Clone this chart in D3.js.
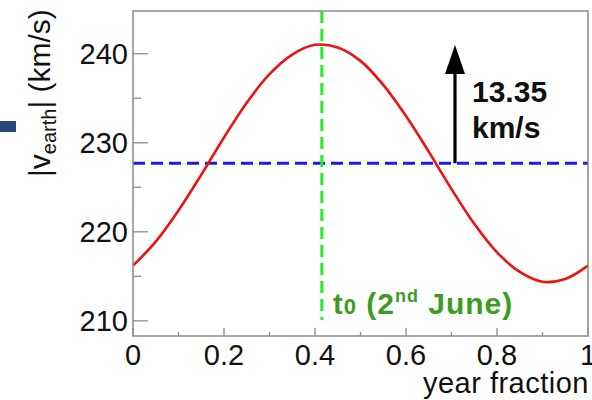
<!DOCTYPE html>
<html><head><meta charset="utf-8">
<script src="https://cdn.jsdelivr.net/npm/d3@7"></script>
<style>body{margin:0;background:#fff}svg{display:block;font-family:"Liberation Sans",Arial,sans-serif}</style>
</head><body>
<script>
// data
const yearFraction = [0,0.05,0.10,0.15,0.20,0.25,0.30,0.35,0.40,0.45,0.50,0.55,0.60,0.65,0.70,0.75,0.80,0.85,0.90,0.95,1.00];
const speed = [216.2,218.9,222.4,226.4,230.6,234.5,237.7,239.9,241.0,240.7,239.2,236.5,233.0,229.0,224.8,220.9,217.7,215.5,214.4,214.7,216.2];
const meanSpeed = 227.7;
const t0 = 0.415;
const amplitudeLabel = ["13.35","km/s"];
const xTicks = [0,0.2,0.4,0.6,0.8,1];
const yTicks = [210,220,230,240];

const W=592,H=400;
const svg=d3.select("body").append("svg").attr("width",W).attr("height",H);
const L=133,R=588,T=11,B=336;
const x=d3.scaleLinear().domain([0,1]).range([L,R]);
const y=d3.scaleLinear().domain([208.3,244.8]).range([B,T]);

// slide artifact on the left
svg.append("rect").attr("x",0).attr("y",121).attr("width",16).attr("height",11).attr("fill","#27467c");

const gray="#8a8a8a";
const xMinor=d3.range(0,1.0001,0.1);
svg.append("g").selectAll("line").data(xMinor).join("line")
 .attr("x1",d=>x(d)).attr("x2",d=>x(d)).attr("y1",B)
 .attr("y2",(d,i)=>B-(i%2===0?8:4)).attr("stroke",gray).attr("stroke-width",1.3);
const yMinor=d3.range(210,241,5);
svg.append("g").selectAll("line").data(yMinor).join("line")
 .attr("y1",d=>y(d)).attr("y2",d=>y(d)).attr("x1",L)
 .attr("x2",(d,i)=>L+(i%2===0?15:8)).attr("stroke",gray).attr("stroke-width",1.3);

// tick labels
svg.append("g").selectAll("text").data(xTicks).join("text")
 .attr("x",d=>x(d)).attr("y",365).attr("text-anchor","middle")
 .attr("font-size",29).attr("fill","#111").text(d=>d===0?"0":d===1?"1":d3.format(".1f")(d));
svg.append("g").selectAll("text").data(yTicks).join("text")
 .attr("x",128).attr("y",d=>y(d)+10.5).attr("text-anchor","end")
 .attr("font-size",29).attr("fill","#111").text(d=>d);

// axis titles
svg.append("text").attr("x",589).attr("y",393).attr("text-anchor","end")
 .attr("font-size",29).attr("letter-spacing",0.5).attr("fill","#111").text("year fraction");
const yt=svg.append("text").attr("transform","translate(50,177) rotate(-90)")
 .attr("font-size",30).attr("fill","#111");
yt.append("tspan").text("|v");
yt.append("tspan").attr("font-size",20).attr("dy",6).text("earth");
yt.append("tspan").attr("dy",-6).text("| (km/s)");

// mean line
svg.append("line").attr("x1",L).attr("x2",R).attr("y1",y(meanSpeed)).attr("y2",y(meanSpeed))
 .attr("stroke","#1a1aee").attr("stroke-width",3).attr("stroke-dasharray","12,6");
// t0 line
svg.append("line").attr("x1",x(t0)).attr("x2",x(t0)).attr("y1",T).attr("y2",320)
 .attr("stroke","#22ee22").attr("stroke-width",3).attr("stroke-dasharray","12,6");

// curve
svg.append("path").datum(yearFraction.map((d,i)=>[d,speed[i]]))
 .attr("d",d3.line().x(d=>x(d[0])).y(d=>y(d[1])).curve(d3.curveCatmullRom))
 .attr("fill","none").attr("stroke","#f01010").attr("stroke-width",2.6);

// arrow
const ax=455;
svg.append("line").attr("x1",ax).attr("x2",ax).attr("y1",y(meanSpeed)).attr("y2",70)
 .attr("stroke","#000").attr("stroke-width",3.2);
svg.append("path").attr("d",`M${ax},45 L${ax-10},74 L${ax+10},74 Z`).attr("fill","#000");
svg.append("text").attr("x",472).attr("y",102).attr("font-size",30).attr("font-weight","bold").attr("fill","#111").text(amplitudeLabel[0]);
svg.append("text").attr("x",472).attr("y",138).attr("font-size",30).attr("font-weight","bold").attr("fill","#111").text(amplitudeLabel[1]);

// t0 label
const gt=svg.append("text").attr("x",333).attr("y",314).attr("font-size",29).attr("font-weight","bold")
 .attr("letter-spacing",1).attr("fill","#3c9c1e");
gt.append("tspan").text("t");
gt.append("tspan").attr("font-size",22).text("0");
gt.append("tspan").attr("font-size",30).text(" (2");
gt.append("tspan").attr("font-size",18).attr("dy",-12).text("nd");
gt.append("tspan").attr("font-size",30).attr("dy",12).text(" June)");

// frame
svg.append("rect").attr("x",L).attr("y",T).attr("width",R-L).attr("height",B-T)
 .attr("fill","none").attr("stroke",gray).attr("stroke-width",1.5);
</script>
</body></html>
